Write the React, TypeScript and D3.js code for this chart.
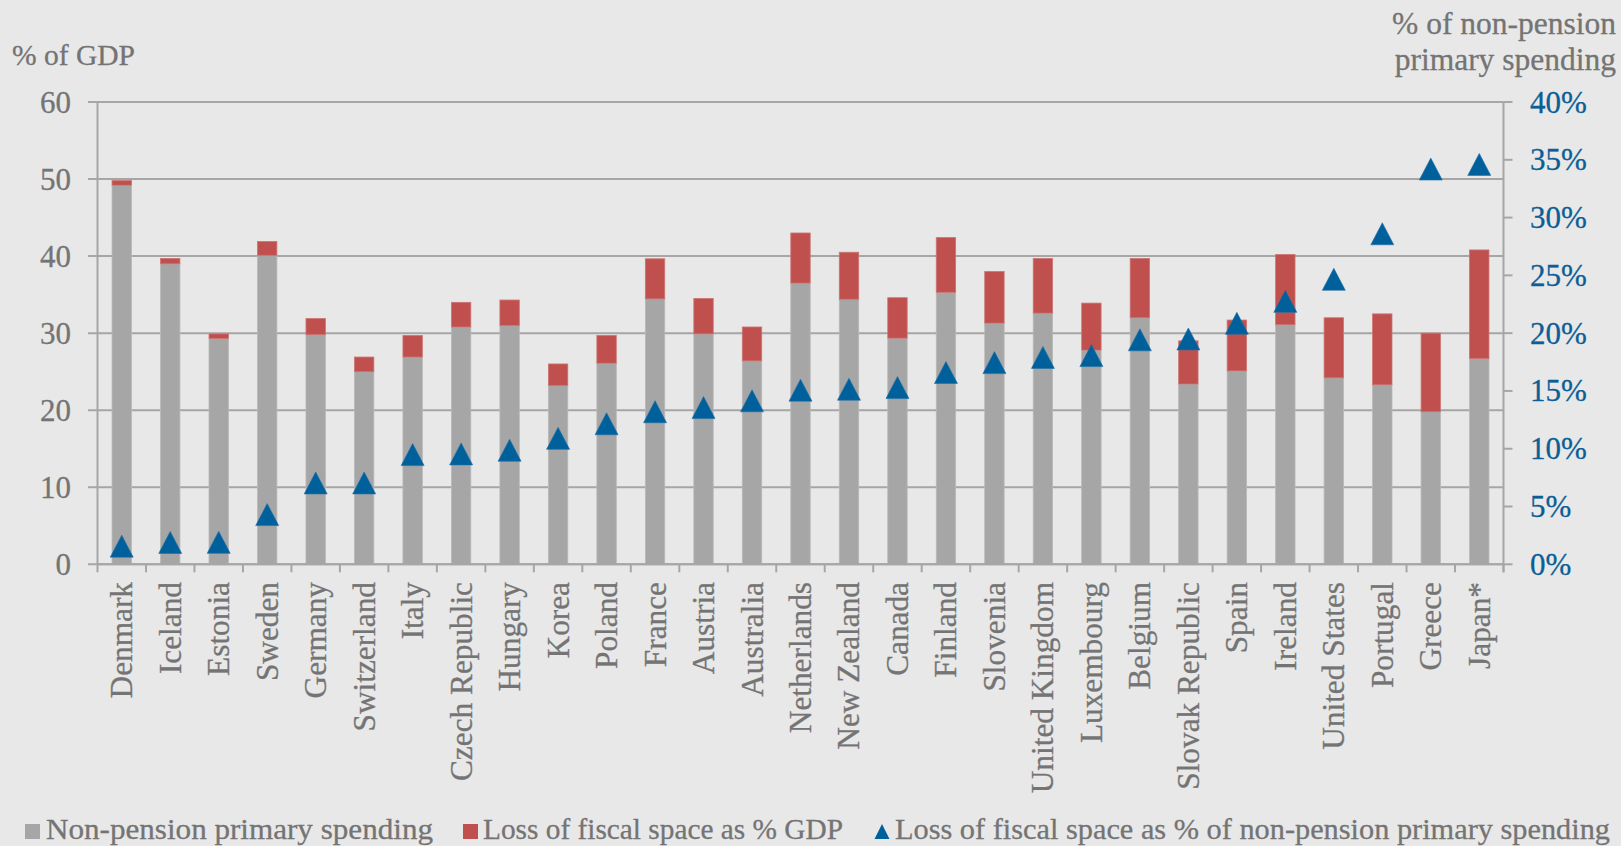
import React from "react";
import * as d3 from "d3";

const countries = [
  "Denmark", "Iceland", "Estonia", "Sweden", "Germany", "Switzerland", "Italy",
  "Czech Republic", "Hungary", "Korea", "Poland", "France", "Austria", "Australia",
  "Netherlands", "New Zealand", "Canada", "Finland", "Slovenia", "United Kingdom",
  "Luxembourg", "Belgium", "Slovak Republic", "Spain", "Ireland", "United States",
  "Portugal", "Greece", "Japan*",
];
const nonPension = [
  49.2, 39.0, 29.3, 40.1, 29.8, 25.0, 26.9, 30.8, 31.0, 23.2, 26.1, 34.45, 29.9, 26.4,
  36.5, 34.4, 29.35, 35.3, 31.3, 32.6, 27.8, 32.0, 23.4, 25.1, 31.1, 24.2, 23.3, 19.8, 26.7,
];
const lossGDP = [
  0.6, 0.7, 0.6, 1.8, 2.1, 1.9, 2.8, 3.2, 3.3, 2.8, 3.6, 5.2, 4.6, 4.4,
  6.5, 6.1, 5.25, 7.1, 6.7, 7.1, 6.1, 7.7, 5.6, 6.6, 9.1, 7.8, 9.2, 10.2, 14.1,
];
const lossPct = [
  1.57, 1.89, 1.9, 4.3, 7.04, 7.04, 9.49, 9.55, 9.87, 10.9, 12.16, 13.2, 13.56, 14.15,
  15.07, 15.15, 15.29, 16.6, 17.45, 17.9, 18.06, 19.42, 19.5, 20.85, 22.75, 24.66, 28.6, 34.2, 34.6,
];
const leftTicks = [0, 10, 20, 30, 40, 50, 60];
const rightTicks = [0, 5, 10, 15, 20, 25, 30, 35, 40];
const legendLabels = [
  "Non-pension primary spending",
  "Loss of fiscal space as % GDP",
  "Loss of fiscal space as % of non-pension primary spending",
];

const W = 1621;
const H = 846;
const X0 = 97.5;
const X1 = 1503.5;
const YTOP = 102;
const YBOT = 564.3;
const FONT = "'Liberation Serif', 'Times New Roman', serif";
const TXT = "#747474";
const GRID = "#A6A6A6";
const GRAYBAR = "#A6A6A6";
const RED = "#C0504D";
const BLUE = "#00609C";

export default function App() {
  const x = d3.scaleBand<string>().domain(countries).range([X0, X1]).paddingInner(0.6).paddingOuter(0.3);
  const y = d3.scaleLinear().domain([0, 60]).range([YBOT, YTOP]);
  const yR = d3.scaleLinear().domain([0, 40]).range([YBOT, YTOP]);
  const step = x.step();
  const bw = x.bandwidth();

  const triPath = (cx: number, cy: number, w: number, h: number) =>
    `M${cx},${cy - h / 2}L${cx + w / 2},${cy + h / 2}L${cx - w / 2},${cy + h / 2}Z`;

  return (
    <svg width={W} height={H} style={{ position: "fixed", left: 0, top: 0, display: "block" }}
      fontFamily={FONT}>
      <rect x={0} y={0} width={W} height={H} fill="#E8E8E8" />
      {leftTicks.map((t) => (
        <line key={"g" + t} x1={88} x2={X1} y1={y(t)} y2={y(t)} stroke={GRID} strokeWidth={2} />
      ))}
      <line x1={X0} x2={X0} y1={YTOP} y2={YBOT} stroke={GRID} strokeWidth={2} />
      <line x1={X1} x2={X1} y1={YTOP} y2={YBOT + 8} stroke={GRID} strokeWidth={2} />
      {rightTicks.map((t) => (
        <line key={"rt" + t} x1={X1} x2={X1 + 9} y1={yR(t)} y2={yR(t)} stroke={GRID} strokeWidth={2} />
      ))}
      {d3.range(countries.length + 1).map((i) => (
        <line key={"bt" + i} x1={X0 + i * step} x2={X0 + i * step} y1={YBOT} y2={YBOT + 8}
          stroke={GRID} strokeWidth={2} />
      ))}
      {countries.map((c, i) => {
        const bx = x(c) as number;
        const g = nonPension[i];
        const r = lossGDP[i];
        return (
          <g key={"b" + c}>
            <rect x={bx} y={y(g)} width={bw} height={y(0) - y(g)} fill={GRAYBAR}
              stroke="#B8B8B8" strokeWidth={0.8} />
            <rect x={bx} y={y(g + r)} width={bw} height={y(g) - y(g + r)} fill={RED}
              stroke="#CC7472" strokeWidth={0.8} />
          </g>
        );
      })}
      <line x1={X0} x2={X1} y1={YBOT} y2={YBOT} stroke={GRID} strokeWidth={2} />
      {countries.map((c, i) => {
        const cx = (x(c) as number) + bw / 2;
        const cy = yR(lossPct[i]);
        return (
          <path key={"t" + c} d={triPath(cx, cy, 23, 22)} fill={BLUE} stroke="#1F6FA6" strokeWidth={0.6} />
        );
      })}
      {leftTicks.map((t) => (
        <text key={"lt" + t} x={71} y={y(t)} dy="0.34em" textAnchor="end" fontSize={31} fill={TXT}
          stroke={TXT} strokeWidth={0.3}>
          {t}
        </text>
      ))}
      {rightTicks.map((t) => (
        <text key={"rl" + t} x={1530} y={yR(t)} dy="0.34em" textAnchor="start" fontSize={31} fill="#0B5E96"
          stroke="#0B5E96" strokeWidth={0.3}>
          {t + "%"}
        </text>
      ))}
      {countries.map((c) => {
        const cx = (x(c) as number) + bw / 2;
        return (
          <text key={"c" + c} transform={`translate(${cx + 10.5},582) rotate(-90)`} textAnchor="end"
            fontSize={31.3} fill={TXT} stroke={TXT} strokeWidth={0.3}>
            {c}
          </text>
        );
      })}
      <text x={12} y={65} fontSize={30} fill={TXT} textLength={123} lengthAdjust="spacingAndGlyphs"
        stroke={TXT} strokeWidth={0.3}>
        % of GDP
      </text>
      <text x={1616} y={34} fontSize={31.5} fill={TXT} textAnchor="end" stroke={TXT} strokeWidth={0.3}>
        % of non-pension
      </text>
      <text x={1616} y={69.5} fontSize={31.5} fill={TXT} textAnchor="end" stroke={TXT} strokeWidth={0.3}>
        primary spending
      </text>
      <rect x={25} y={824} width={15} height={15} fill={GRAYBAR} />
      <text x={46} y={839} fontSize={30} fill={TXT} textLength={387} lengthAdjust="spacingAndGlyphs"
        stroke={TXT} strokeWidth={0.3}>
        {legendLabels[0]}
      </text>
      <rect x={463} y={824} width={15} height={15} fill={RED} />
      <text x={483} y={839} fontSize={30} fill={TXT} textLength={360} lengthAdjust="spacingAndGlyphs"
        stroke={TXT} strokeWidth={0.3}>
        {legendLabels[1]}
      </text>
      <path d={triPath(882, 831.5, 15, 15)} fill={BLUE} />
      <text x={895} y={839} fontSize={30} fill={TXT} textLength={715} lengthAdjust="spacingAndGlyphs"
        stroke={TXT} strokeWidth={0.3}>
        {legendLabels[2]}
      </text>
    </svg>
  );
}
